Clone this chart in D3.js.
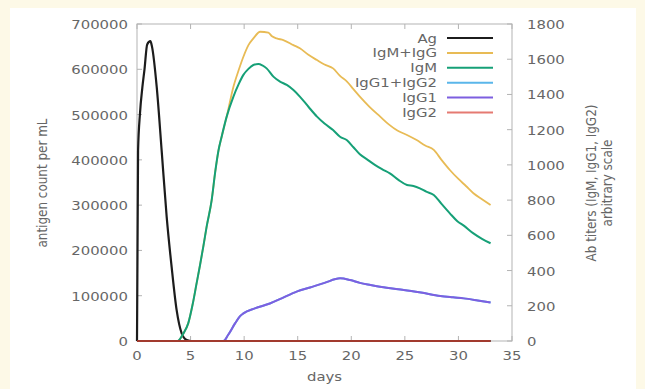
<!DOCTYPE html>
<html>
<head>
<meta charset="utf-8">
<script src="https://cdn.jsdelivr.net/npm/d3@7"></script>
<style>
  body { margin: 0; background: #fdf9e7; }
  svg { display: block; }
  text { font-family: "DejaVu Sans", sans-serif; font-size: 12px; fill: #666; }
</style>
</head>
<body>
<div id="chart"></div>
<script>
// days on x, antigen on left axis, antibody titers on right axis
const xTicks = [0, 5, 10, 15, 20, 25, 30, 35];
const yTicks = [0, 100000, 200000, 300000, 400000, 500000, 600000, 700000];
const y2Ticks = [0, 200, 400, 600, 800, 1000, 1200, 1400, 1600, 1800];

const agDays = [0, 0.1, 0.28, 0.5, 0.7, 0.95, 1.25, 1.4, 1.84, 2.3, 2.77, 3.23, 3.7, 4.17, 4.64, 5.0, 33];
const agValues = [0, 420000, 503000, 560000, 600000, 655000, 662000, 650000, 561000, 421000, 274000, 164000, 68000, 17000, 2000, 0, 0];

const igmDays = [0, 3.8, 4.3, 4.78, 5.2, 5.57, 5.88, 6.2, 6.5, 6.97, 7.3, 7.6, 7.9, 8.37, 9.0, 9.5, 9.93, 10.4, 10.86, 11.33, 11.7, 12.1, 12.73, 13.35, 13.98, 14.6, 15.2, 16.0, 16.8, 17.5, 18.3, 18.95, 19.6, 20.2, 20.8, 21.5, 22.2, 22.9, 23.6, 24.4, 25.2, 25.8, 26.4, 27.0, 27.7, 28.4, 29.2, 29.9, 30.5, 31.4, 32.2, 33];
const igmValues = [0, 0, 40, 100, 210, 330, 430, 540, 649, 800, 960, 1080, 1160, 1274, 1388, 1460, 1511, 1545, 1567, 1573, 1565, 1548, 1501, 1473, 1454, 1425, 1388, 1330, 1274, 1235, 1198, 1160, 1140, 1100, 1060, 1030, 1000, 975, 952, 915, 886, 880, 867, 848, 829, 780, 725, 680, 655, 611, 580, 555];

const totDays = [0, 3.8, 4.3, 4.78, 5.2, 5.57, 5.88, 6.2, 6.5, 6.97, 7.3, 7.6, 7.9, 8.37, 9.0, 9.5, 9.93, 10.4, 10.86, 11.5, 12.26, 12.6, 13.04, 13.66, 14.6, 15.2, 16.0, 16.8, 17.5, 18.3, 18.95, 19.6, 20.2, 20.8, 21.7, 22.7, 23.5, 24.3, 25.2, 26.1, 26.9, 27.7, 28.4, 29.2, 30.0, 30.7, 31.4, 32.2, 33];
const totValues = [0, 0, 40, 100, 210, 330, 430, 540, 649, 800, 960, 1080, 1160, 1274, 1444, 1540, 1614, 1680, 1718, 1756, 1751, 1730, 1718, 1709, 1680, 1662, 1625, 1595, 1570, 1548, 1505, 1473, 1430, 1388, 1330, 1274, 1230, 1195, 1170, 1141, 1110, 1085, 1030, 971, 920, 880, 839, 805, 772];

const igg1Days = [0, 8.06, 8.5, 9.15, 9.6, 9.93, 11.0, 12.4, 13.6, 14.9, 16.15, 17.5, 18.95, 19.9, 20.8, 21.8, 23.3, 24.9, 26.5, 28.3, 29.5, 30.5, 31.8, 33];
const igg1Values = [0, 0, 34, 100, 140, 157, 185, 213, 245, 280, 304, 330, 356, 346, 330, 318, 302, 290, 275, 256, 248, 242, 230, 218];

const iggSumDays = [0, 8.06, 8.5, 9.15, 9.6, 9.93, 11.0, 12.4, 13.6, 14.9, 16.15, 17.5, 18.95, 19.9, 20.8, 21.8, 23.3, 24.9, 26.5, 28.3, 29.5, 30.5, 31.8, 33];
const iggSumValues = [0, 0, 34, 100, 140, 157, 185, 213, 245, 280, 304, 330, 356, 346, 330, 318, 302, 290, 275, 256, 248, 242, 230, 218];

const igg2Days = [0, 33];
const igg2Values = [0, 0];

const seriesNames = ['Ag', 'IgM+IgG', 'IgM', 'IgG1+IgG2', 'IgG1', 'IgG2'];
const seriesColors = ['#1c1c1c', '#e8bb55', '#16a077', '#5ab6ea', '#7d5fe0', '#e57a72'];

const width = 645;
const height = 389;
const margin = { top: 24, right: 133, bottom: 48, left: 137 };
const sx = 1.24; // glyphs in the picture are a bit wider than tall

const svg = d3.select('#chart')
    .append('svg')
    .attr('width', width)
    .attr('height', height);

svg.append('rect')
    .attr('x', 10).attr('y', 8)
    .attr('width', 626).attr('height', height - 8)
    .attr('fill', '#fff');

const x = d3.scaleLinear()
    .domain([0, 35])
    .range([margin.left, width - margin.right]);

const y = d3.scaleLinear()
    .domain([0, 700000])
    .range([height - margin.bottom, margin.top]);

const y2 = d3.scaleLinear()
    .domain([0, 1800])
    .range([height - margin.bottom, margin.top]);

const label = (g, px, py, txt, anchor) => g.append('text')
    .attr('transform', `translate(${px},${py}) scale(${sx},1)`)
    .attr('text-anchor', anchor)
    .text(txt);

// frame
svg.append('rect')
    .attr('x', x(0)).attr('y', y(700000))
    .attr('width', x(35) - x(0)).attr('height', y(0) - y(700000))
    .attr('fill', 'none').attr('stroke', '#b3b3b3').attr('stroke-width', 1);

const ticks = svg.append('g').attr('stroke', '#b3b3b3').attr('stroke-width', 1);

xTicks.forEach((t) => {
    ticks.append('line').attr('x1', x(t)).attr('x2', x(t)).attr('y1', y(0)).attr('y2', y(0) - 5);
    ticks.append('line').attr('x1', x(t)).attr('x2', x(t)).attr('y1', y(700000)).attr('y2', y(700000) + 5);
    label(svg, x(t), y(0) + 19, t, 'middle');
});

yTicks.forEach((t) => {
    ticks.append('line').attr('x1', x(0)).attr('x2', x(0) + 5).attr('y1', y(t)).attr('y2', y(t));
    label(svg, x(0) - 9, y(t) + 5, t, 'end');
});

y2Ticks.forEach((t) => {
    ticks.append('line').attr('x1', x(35)).attr('x2', x(35) - 5).attr('y1', y2(t)).attr('y2', y2(t));
    label(svg, x(35) + 15, y2(t) + 5, t, 'start');
});

// axis titles
label(svg, (x(0) + x(35)) / 2, 381, 'days', 'middle');

const vTitle = (px, py, txt) => svg.append('text')
    .attr('transform', `translate(${px},${py}) rotate(-90) scale(1,${sx})`)
    .attr('text-anchor', 'middle')
    .text(txt);

vTitle(47, 183, 'antigen count per mL');
vTitle(596, 183, 'Ab titers (IgM, IgG1, IgG2)');
vTitle(612, 183, 'arbitrary scale');

// curves
const pairs = (days, vals) => days.map((d, i) => [d, vals[i]]);

const leftLine = d3.line().x((d) => x(d[0])).y((d) => y(d[1])).curve(d3.curveMonotoneX);
const rightLine = d3.line().x((d) => x(d[0])).y((d) => y2(d[1])).curve(d3.curveMonotoneX);

const plot = svg.append('g').attr('fill', 'none').attr('stroke-linejoin', 'round');

plot.append('path').attr('d', leftLine(pairs(agDays, agValues)))
    .attr('stroke', seriesColors[0]).attr('stroke-width', 2.2);
plot.append('path').attr('d', rightLine(pairs(totDays, totValues)))
    .attr('stroke', seriesColors[1]).attr('stroke-width', 1.8);
plot.append('path').attr('d', rightLine(pairs(igmDays, igmValues)))
    .attr('stroke', seriesColors[2]).attr('stroke-width', 2);
plot.append('path').attr('d', rightLine(pairs(iggSumDays, iggSumValues)))
    .attr('stroke', seriesColors[3]).attr('stroke-width', 2);
plot.append('path').attr('d', rightLine(pairs(igg1Days, igg1Values)))
    .attr('stroke', seriesColors[4]).attr('stroke-width', 2);
plot.append('path').attr('d', rightLine(pairs(igg2Days, igg2Values)))
    .attr('stroke', '#a23a2e').attr('stroke-width', 2);

// legend
const legend = svg.append('g');
seriesNames.forEach((name, i) => {
    const ly = 38 + i * 14.9;
    label(legend, 437, ly + 4.5, name, 'end');
    legend.append('line')
        .attr('x1', 447).attr('x2', 493)
        .attr('y1', ly).attr('y2', ly)
        .attr('stroke', seriesColors[i])
        .attr('stroke-width', i == 0 ? 2.2 : 2);
});
</script>
</body>
</html>
